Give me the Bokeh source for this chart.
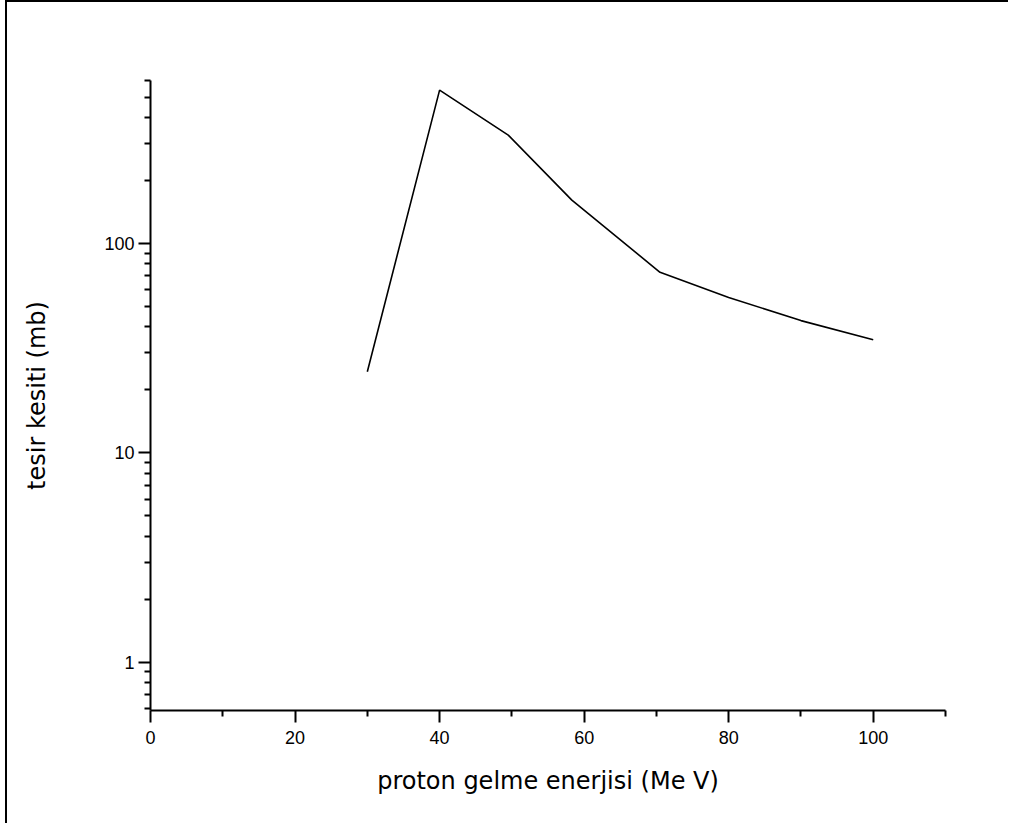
from bokeh.plotting import figure
from bokeh.models import FixedTicker, Range1d
from bokeh.embed import file_html
from bokeh.resources import INLINE

# proton energy (MeV) and cross section (mb)
energy = [30, 40, 49.5, 58.3, 70.5, 80, 90, 100]
cross_section = [24.4, 540, 329, 161, 72.8, 55.2, 42.8, 34.7]

x_major = [0, 20, 40, 60, 80, 100]
x_minor = [10, 30, 50, 70, 90, 110]
y_major = [1, 10, 100]
y_minor = [0.6, 0.7, 0.8, 0.9] + [m * d for d in (1, 10, 100) for m in range(2, 10)]

TICK_FONT = "Liberation Sans"
LABEL_FONT = "DejaVu Sans"

p = figure(
    width=1003, height=823,
    x_range=Range1d(0, 110), y_range=Range1d(0.588, 600),
    y_axis_type="log",
    output_backend="svg", toolbar_location=None,
    min_border_left=143, min_border_right=65,
    min_border_top=78, min_border_bottom=115,
)
p.styles = {"border-left": "2px solid #000", "border-top": "2px solid #000",
            "margin-left": "5px"}

p.line(energy, cross_section, line_color="black", line_width=1.6)

p.outline_line_color = None
p.grid.visible = False
p.background_fill_color = "white"
p.border_fill_color = "white"

xa = p.xaxis[0]
xa.ticker = FixedTicker(ticks=x_major, minor_ticks=x_minor)
xa.axis_label = "proton gelme enerjisi (Me V)"

ya = p.yaxis[0]
ya.ticker = FixedTicker(ticks=y_major, minor_ticks=y_minor)
ya.axis_label = "tesir kesiti (mb)"
ya.major_label_overrides = {1: "1", 10: "10", 100: "100"}

for ax in (xa, ya):
    ax.axis_line_color = "black"
    ax.axis_line_width = 2
    ax.major_tick_line_color = "black"
    ax.major_tick_line_width = 2
    ax.minor_tick_line_color = "black"
    ax.minor_tick_line_width = 2
    ax.major_tick_out = 12
    ax.major_tick_in = 0
    ax.minor_tick_out = 6
    ax.minor_tick_in = 0
    ax.major_label_text_font = TICK_FONT
    ax.major_label_text_font_size = "18px"
    ax.major_label_text_color = "black"
    ax.axis_label_text_font = LABEL_FONT
    ax.axis_label_text_font_size = "24px"
    ax.axis_label_text_font_style = "normal"
    ax.axis_label_text_color = "black"

xa.major_label_standoff = 8
xa.axis_label_standoff = 20
ya.major_label_standoff = 4
ya.axis_label_standoff = 50

open("out.html", "w").write(file_html(p, INLINE))
